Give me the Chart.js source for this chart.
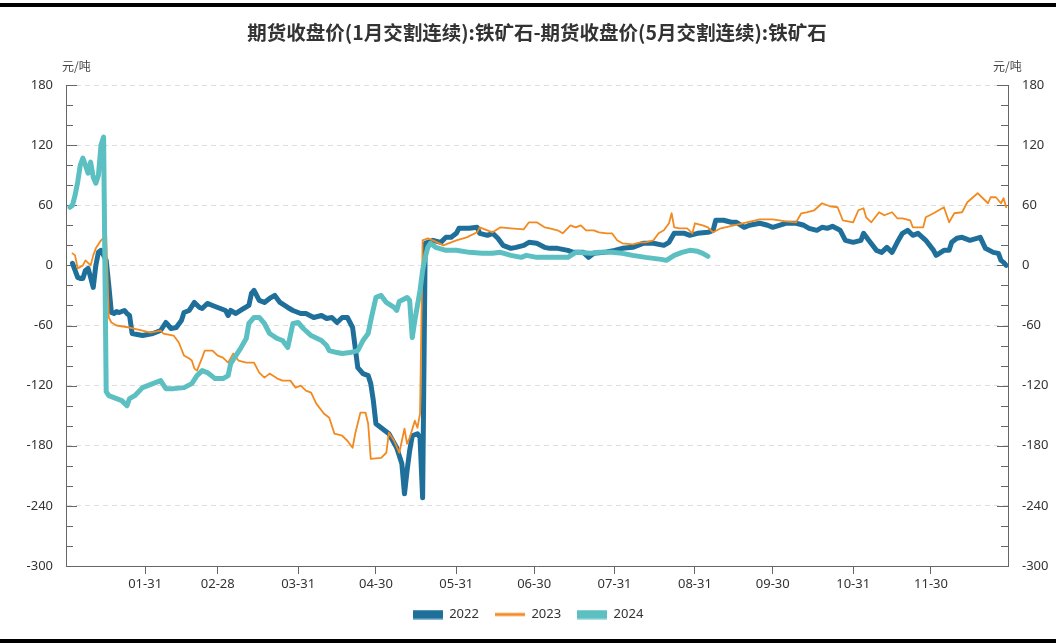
<!DOCTYPE html>
<html>
<head>
<meta charset="utf-8">
<script src="https://cdn.jsdelivr.net/npm/chart.js@4.4.1/dist/chart.umd.min.js"></script>
<style>
  html, body { margin: 0; padding: 0; background: #fff; }
  #wrap { position: relative; width: 1056px; height: 643px; overflow: hidden; }
  .bar { position: absolute; left: 0; width: 1056px; height: 4px; background: #000; }
</style>
</head>
<body>
<div id="wrap">
  <canvas id="spreadChart" width="1056" height="643"></canvas>
  <div class="bar" style="top:3px"></div>
  <div class="bar" style="top:639px"></div>
</div>
<script>
// day of year (0 = Jan 1) and spread values, yuan/ton
const days2022 = [2, 4, 5, 6, 7, 8, 9, 10, 11, 12, 13, 14, 15, 16, 17, 18, 19, 20, 22, 23, 24, 25, 29, 33, 36, 38, 40, 42, 44, 45, 47, 49, 51, 52, 54, 56, 59, 61, 62, 63, 65, 68, 70, 71, 72, 74, 76, 78, 80, 82, 85, 87, 90, 92, 95, 98, 100, 102, 104, 106, 108, 110, 111, 112, 114, 116, 117, 118, 119, 121, 124, 127, 129, 130, 131, 132, 133, 135, 136, 137, 138,
  141, 144, 146, 148, 150, 151, 155, 158, 159, 162, 164, 166, 168, 171, 173, 176, 178, 181, 184, 186, 189, 193, 195, 199, 201, 203, 207, 211, 214, 218, 222, 226, 230, 232, 234, 238, 240, 243, 247, 249, 250, 253, 256, 258, 261, 263, 267, 270, 272, 277, 281, 284, 286, 289, 291, 293, 295, 298, 300, 303, 306, 307, 309, 312, 314, 316, 318, 320, 322, 324, 326, 328, 331, 334, 335, 338, 340, 341, 343, 345, 348, 352, 354, 357, 359, 360, 361, 362];
const vals2022 = [2, -12, -13, -13, -5, -3, -12, -22, 0, 13, 15, 10, 5, -20, -47, -48, -46, -47, -45, -48, -50, -68, -70, -68, -65, -57, -63, -62, -55, -47, -45, -37, -42, -43, -38, -40, -43, -45, -50, -45, -48, -43, -40, -28, -25, -35, -37, -33, -30, -37, -42, -45, -48, -48, -52, -50, -53, -52, -57, -52, -52, -62, -82, -102, -108, -110, -118, -135, -158, -162, -168, -182, -198, -228, -205, -185, -170, -168, -172, -232, 22,
  25, 23, 28, 28, 32, 37, 37, 38, 32, 30, 32, 27, 20, 17, 18, 20, 23, 22, 18, 17, 17, 15, 13, 13, 8, 12, 13, 15, 17, 18, 22, 22, 20, 23, 32, 32, 30, 32, 33, 35, 45, 45, 43, 43, 38, 40, 42, 40, 38, 42, 42, 40, 37, 35, 38, 37, 39, 35, 25, 23, 25, 32, 25, 15, 13, 18, 13, 23, 32, 35, 30, 32, 25, 15, 10, 15, 15, 23, 27, 28, 25, 28, 17, 13, 12, 5, 3, 0];

const days2023 = [2, 3, 4, 6, 7, 9, 10, 11, 13, 15, 16, 17, 19, 24, 29, 32, 36, 37, 41, 43, 45, 47, 48, 49, 50, 52, 53, 56, 58, 60, 62, 64, 66, 69, 72, 74, 76, 78, 81, 83, 86, 88, 90, 92, 94, 96, 99,
  101, 103, 106, 108, 110, 111, 113, 115, 116, 117, 121, 123, 124, 126, 128, 130, 131, 132, 134, 135, 136, 137,
  139, 141, 145, 148, 150, 154, 158, 159, 162, 164, 167, 171, 176, 178, 181, 184, 186, 189, 191, 194, 196, 198, 200, 203, 205, 208, 210, 212, 214, 218, 221, 223, 226, 228, 230, 232, 233, 234, 236, 239, 241, 242, 245, 247, 249, 252, 257, 262, 267, 272, 277, 281, 283, 285, 288, 291, 294, 297, 299, 303, 305, 307, 308, 310, 313, 315, 318, 320, 322, 325, 326, 330, 331, 334, 338, 340, 342, 345, 347, 351, 353, 355, 356, 358, 360, 361, 362];
const vals2023 = [12, 10, -3, 0, 5, 0, 10, 17, 25, 30, -52, -57, -60, -62, -65, -67, -65, -68, -70, -77, -90, -93, -95, -103, -105, -92, -85, -85, -90, -92, -97, -88, -95, -97, -97, -107, -112, -108, -113, -115, -115, -122, -120, -125, -127, -138, -148,
  -152, -168, -170, -175, -182, -168, -147, -147, -158, -193, -192, -187, -167, -175, -187, -163, -178, -172, -155, -162, -148, 25,
  27, 25, 20, 23, 25, 28, 33, 38, 35, 33, 38, 37, 36, 43, 43, 38, 37, 35, 32, 40, 38, 40, 35, 35, 33, 32, 32, 25, 22, 21, 23, 23, 25, 32, 35, 42, 52, 38, 37, 37, 32, 42, 40, 38, 33, 37, 40, 43, 46, 46, 44, 43, 52, 53, 55, 62, 59, 58, 45, 43, 55, 57, 48, 43, 53, 50, 53, 47, 47, 45, 38, 38, 48, 52, 58, 43, 52, 53, 63, 72, 67, 62, 68, 68, 62, 67, 58];

const days2024 = [1, 2, 3, 4, 5, 6, 7, 8, 9, 10, 11, 12, 13, 14, 15, 16, 19, 21, 23, 24, 26, 29, 31, 34, 36, 38, 41, 45, 48, 50, 52, 54, 57, 60, 62, 63, 65, 67, 69, 70, 72, 74, 76, 78, 81, 83, 85, 87, 89, 91, 94, 98, 100, 101, 104, 106, 109, 112, 114, 116, 117, 119, 121, 123, 126, 127, 128, 131, 132, 133, 134, 135, 136, 137, 138, 139, 140, 142, 146, 150, 155, 160, 164, 167, 171, 175, 177, 181, 186, 193, 196, 202, 205, 210, 214, 218, 223, 229, 231, 234, 237, 240, 243, 245, 247];
const vals2024 = [58, 60, 70, 83, 100, 107, 100, 92, 103, 88, 82, 90, 120, 128, -126, -130, -133, -135, -140, -133, -130, -122, -120, -117, -115, -123, -123, -122, -118, -110, -105, -107, -113, -113, -110, -98, -90, -82, -73, -58, -52, -52, -58, -68, -73, -75, -82, -58, -57, -63, -70, -75, -80, -85, -87, -88, -87, -85, -75, -68, -55, -32, -30, -37, -42, -45, -36, -32, -35, -72, -55, -40, -25, -5, 8, 18, 22, 18, 15, 15, 13, 12, 12, 13, 10, 8, 10, 8, 8, 8, 13, 12, 13, 13, 12, 10, 8, 6, 5, 10, 13, 15, 14, 12, 9];

const seriesNames = ["2022", "2023", "2024"];
const seriesColors = ["#1f6f9b", "#f28a1f", "#5cbfc1"];

const tickDays = [30, 58, 89, 119, 150, 180, 211, 242, 272, 303, 333];
const tickLabels = ["01-31", "02-28", "03-31", "04-30", "05-31", "06-30", "07-31", "08-31", "09-30", "10-31", "11-30"];

function toPoints(days, vals) {
  return days.map((d, i) => ({ x: d, y: vals[i] }));
}

// legend icons: solid block for thick lines, thin bar for 2023
function makeIcon(color, barHeight) {
  const c = document.createElement("canvas");
  c.width = 30;
  c.height = 10;
  const g = c.getContext("2d");
  g.fillStyle = color;
  g.fillRect(0, (10 - barHeight) / 2, 30, barHeight);
  return c;
}
const legendIcons = [
  makeIcon(seriesColors[0], 9),
  makeIcon(seriesColors[1], 3),
  makeIcon(seriesColors[2], 9),
];

Chart.defaults.font.family = '"Noto Sans", "Noto Sans CJK SC", sans-serif';
Chart.defaults.color = "#333";

// small inner tick marks on both value axes + unit labels
const innerTicks = {
  id: "innerTicks",
  beforeDatasetsDraw(chart) {
    const ctx = chart.ctx;
    const yl = chart.scales.y;
    const yr = chart.scales.y1;
    ctx.save();
    ctx.strokeStyle = "#666";
    ctx.lineWidth = 1;
    for (let v = -280; v <= 180; v += 20) {
      const py = Math.round(yl.getPixelForValue(v)) + 0.5;
      const len = v % 60 === 0 ? 11 : 7;
      ctx.beginPath();
      ctx.moveTo(yl.right, py);
      ctx.lineTo(yl.right + len, py);
      ctx.moveTo(yr.left, py);
      ctx.lineTo(yr.left - len, py);
      ctx.stroke();
    }
    ctx.restore();
  },
  afterDraw(chart) {
    const ctx = chart.ctx;
    ctx.save();
    ctx.font = '12px "Noto Sans CJK SC", sans-serif';
    ctx.fillStyle = "#444";
    ctx.textBaseline = "middle";
    ctx.textAlign = "left";
    ctx.fillText("元/吨", 62, 66);
    ctx.fillText("元/吨", 993, 66);
    ctx.restore();
  },
};

const ctx = document.getElementById("spreadChart");

new Chart(ctx, {
  type: "line",
  data: {
    datasets: [
      {
        label: seriesNames[0],
        data: toPoints(days2022, vals2022),
        borderColor: seriesColors[0],
        backgroundColor: seriesColors[0],
        borderWidth: 5,
        order: 2,
      },
      {
        label: seriesNames[1],
        data: toPoints(days2023, vals2023),
        borderColor: seriesColors[1],
        backgroundColor: seriesColors[1],
        borderWidth: 1.8,
        order: 1,
      },
      {
        label: seriesNames[2],
        data: toPoints(days2024, vals2024),
        borderColor: seriesColors[2],
        backgroundColor: seriesColors[2],
        borderWidth: 5,
        order: 0,
      },
    ],
  },
  options: {
    responsive: false,
    animation: false,
    events: [],
    layout: { padding: { left: 0, right: 0, top: 0, bottom: 12 } },
    elements: {
      point: { radius: 0 },
      line: { tension: 0, borderJoinStyle: "round", borderCapStyle: "round", fill: false },
    },
    plugins: {
      title: {
        display: true,
        fullSize: false,
        text: "期货收盘价(1月交割连续):铁矿石-期货收盘价(5月交割连续):铁矿石",
        color: "#333",
        font: { family: '"Noto Sans CJK SC", sans-serif', size: 19.5, weight: "bold", lineHeight: 1.2 },
        padding: { top: 21, bottom: 40.6 },
      },
      legend: {
        position: "bottom",
        labels: {
          usePointStyle: true,
          pointStyleWidth: 30,
          boxHeight: 10,
          padding: 16,
          font: { size: 13 },
          color: "#333",
          generateLabels(chart) {
            const items = Chart.defaults.plugins.legend.labels.generateLabels(chart);
            items.forEach((it) => (it.pointStyle = legendIcons[it.datasetIndex]));
            return items;
          },
          sort: (a, b) => a.datasetIndex - b.datasetIndex,
        },
      },
      tooltip: { enabled: false },
    },
    scales: {
      x: {
        type: "linear",
        min: -0.5,
        max: 362.7,
        afterBuildTicks(scale) {
          scale.ticks = tickDays.map((v) => ({ value: v }));
        },
        afterFit(scale) {
          scale.height = 26;
        },
        ticks: {
          autoSkip: false,
          maxRotation: 0,
          padding: 2,
          font: { size: 13 },
          color: "#333",
          callback: (value) => tickLabels[tickDays.indexOf(value)],
        },
        grid: { drawOnChartArea: false, drawTicks: true, tickLength: 8, color: "#666" },
        border: { display: true, color: "#666" },
      },
      y: {
        position: "left",
        min: -300,
        max: 180,
        afterFit(scale) {
          scale.width = 66;
        },
        ticks: { stepSize: 60, padding: 13, font: { size: 13 }, color: "#333" },
        grid: {
          drawTicks: false,
          color: (c) => (c.tick && c.tick.value === -300 ? "rgba(0,0,0,0)" : "#dedede"),
        },
        border: { display: true, color: "#666", dash: [5, 4] },
      },
      y1: {
        position: "right",
        display: true,
        min: -300,
        max: 180,
        afterFit(scale) {
          scale.width = 48;
        },
        ticks: { stepSize: 60, padding: 14, font: { size: 13 }, color: "#333" },
        grid: { drawOnChartArea: false, drawTicks: false },
        border: { display: true, color: "#666" },
      },
    },
  },
  plugins: [innerTicks],
});
</script>
</body>
</html>
